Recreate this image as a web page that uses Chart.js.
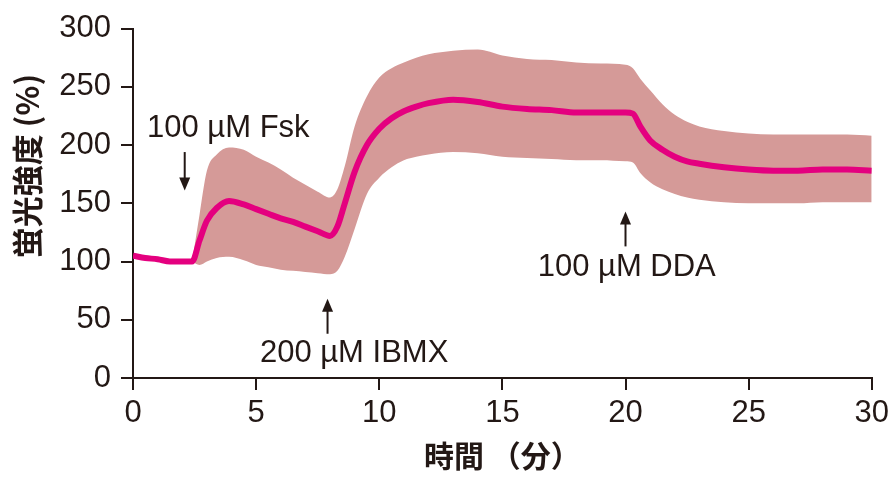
<!DOCTYPE html>
<html>
<head>
<meta charset="utf-8">
<script src="https://cdn.jsdelivr.net/npm/chart.js@4/dist/chart.umd.min.js"></script>
<style>
  html, body { margin: 0; padding: 0; background: #ffffff; }
  #wrap { width: 894px; height: 477px; position: relative; }
</style>
</head>
<body>
<div id="wrap"><canvas id="fluoChart"></canvas></div>
<script>
// Time (min) and fluorescence intensity (%)
const timeMin = [0, 0.5, 1, 1.5, 2, 2.4, 2.7, 3, 3.4, 3.9, 4.5, 5, 5.5, 6, 6.5, 7, 7.5, 8, 8.3, 8.6,
  9, 9.5, 10, 10.5, 11, 11.5, 12, 13, 14, 15, 16, 17, 18, 19, 20, 20.3, 20.6, 21, 21.5, 22,
  22.5, 23, 24, 25, 26, 27, 28, 29, 30];
const meanValues = [105, 103, 102, 100, 100, 100, 118, 135, 146, 152, 149, 145, 141, 137, 134, 130, 126, 122, 130, 150,
  177, 200, 214, 223, 229, 233, 236, 239, 237, 233, 231, 230, 228, 228, 228, 227, 216, 204, 196, 190,
  186, 184, 181, 179, 178, 178, 179, 179, 178];
const upperValues = [null, null, null, null, null, 100, 140, 178, 192, 198, 196, 190, 185, 179, 172, 166, 160, 155, 162, 182,
  216, 242, 258, 266, 271, 275, 278, 281, 282, 277, 274, 273, 271, 270, 269, 266, 257, 247, 235, 226,
  220, 216, 212, 210, 209, 209, 209, 209, 208];
const lowerValues = [null, null, null, null, null, 100, 97, 100, 103, 104, 101, 97, 95, 93, 92, 91, 90, 89, 92, 104,
  128, 158, 172, 181, 187, 190, 192, 194, 193, 190, 189, 188, 187, 187, 186, 185, 176, 168, 162, 158,
  155, 153, 151, 150, 150, 150, 151, 151, 151];

const xTicks = [0, 5, 10, 15, 20, 25, 30];
const yTicks = [0, 50, 100, 150, 200, 250, 300];

// Drug additions
const annoLabels = ['100 µM Fsk', '200 µM IBMX', '100 µM DDA'];
const annoTextX = [3.87, 8.98, 20.05];
const annoTextY = [214, 21, 95];
const arrowX = [2.1, 7.9, 20.0];
const arrowTail = [194, 38, 113];
const arrowTip = [161, 68, 143];

const ink = '#231815';
const lineColor = '#e4007f';
const bandColor = '#d59a98';

function toPoints(values) {
    return timeMin.map((t, i) => ({ x: t, y: values[i] }));
}

// arrows, drug labels and the y title
const annotationPlugin = {
    id: 'annotations',
    afterDatasetsDraw(chart) {
        const ctx = chart.ctx;
        const xs = chart.scales.x;
        const ys = chart.scales.y;
        ctx.save();
        ctx.fillStyle = ink;
        ctx.strokeStyle = ink;
        ctx.font = '31px "Liberation Sans", Arial, sans-serif';
        ctx.textAlign = 'center';
        ctx.textBaseline = 'middle';
        annoLabels.forEach((label, i) => {
            ctx.fillText(label, xs.getPixelForValue(annoTextX[i]), ys.getPixelForValue(annoTextY[i]));

            const ax = xs.getPixelForValue(arrowX[i]);
            const y0 = ys.getPixelForValue(arrowTail[i]);
            const y1 = ys.getPixelForValue(arrowTip[i]);
            const dir = y1 > y0 ? 1 : -1;
            ctx.lineWidth = 2;
            ctx.beginPath();
            ctx.moveTo(ax, y0);
            ctx.lineTo(ax, y1 - dir * 10);
            ctx.stroke();
            ctx.beginPath();
            ctx.moveTo(ax, y1);
            ctx.lineTo(ax - 5.5, y1 - dir * 13);
            ctx.lineTo(ax + 5.5, y1 - dir * 13);
            ctx.closePath();
            ctx.fill();
        });

        // y axis title
        ctx.translate(27, 166);
        ctx.rotate(-Math.PI / 2);
        ctx.font = 'bold 31px "Noto Sans CJK JP", sans-serif';
        ctx.fillText('蛍光強度 (%)', 0, 0);
        ctx.restore();
    }
};

const chartCtx = document.getElementById('fluoChart').getContext('2d');
const fluoChart = new Chart(chartCtx, {
    type: 'line',
    data: {
        datasets: [
            {
                label: 'mean',
                data: toPoints(meanValues),
                borderColor: lineColor,
                borderWidth: 6,
                pointRadius: 0,
                cubicInterpolationMode: 'monotone',
                fill: false,
                order: 0
            },
            {
                label: 'upper',
                data: toPoints(upperValues),
                borderWidth: 0,
                borderColor: bandColor,
                backgroundColor: bandColor,
                pointRadius: 0,
                cubicInterpolationMode: 'monotone',
                fill: '+1',
                order: 1
            },
            {
                label: 'lower',
                data: toPoints(lowerValues),
                borderWidth: 0,
                borderColor: bandColor,
                pointRadius: 0,
                cubicInterpolationMode: 'monotone',
                fill: false,
                order: 2
            }
        ]
    },
    options: {
        responsive: true,
        maintainAspectRatio: false,
        animation: false,
        layout: { padding: { top: 21, right: 21, left: 0, bottom: 0 } },
        plugins: {
            legend: { display: false },
            tooltip: { enabled: false }
        },
        scales: {
            x: {
                type: 'linear',
                min: 0,
                max: 30,
                afterFit: scale => { scale.height = 99; },
                afterBuildTicks: scale => { scale.ticks = xTicks.map(v => ({ value: v })); },
                border: { display: true, color: ink, width: 2 },
                grid: { drawOnChartArea: false, drawTicks: true, tickLength: 12, tickColor: ink, lineWidth: 2 },
                ticks: {
                    color: ink,
                    padding: 5,
                    maxRotation: 0,
                    font: { family: '"Liberation Sans", Arial, sans-serif', size: 31 }
                },
                title: {
                    display: true,
                    text: '時間 （分）',
                    color: ink,
                    padding: { top: 0, bottom: 6 },
                    font: { family: '"Noto Sans CJK JP", sans-serif', size: 30, weight: 'bold', lineHeight: 1 }
                }
            },
            y: {
                min: 0,
                max: 300,
                afterFit: scale => { scale.width = 133; },
                afterBuildTicks: scale => { scale.ticks = yTicks.map(v => ({ value: v })); },
                border: { display: true, color: ink, width: 2 },
                grid: { drawOnChartArea: false, drawTicks: true, tickLength: 12, tickColor: ink, lineWidth: 2 },
                ticks: {
                    color: ink,
                    padding: 10,
                    font: { family: '"Liberation Sans", Arial, sans-serif', size: 31 }
                }
            }
        }
    },
    plugins: [annotationPlugin]
});
</script>
</body>
</html>
